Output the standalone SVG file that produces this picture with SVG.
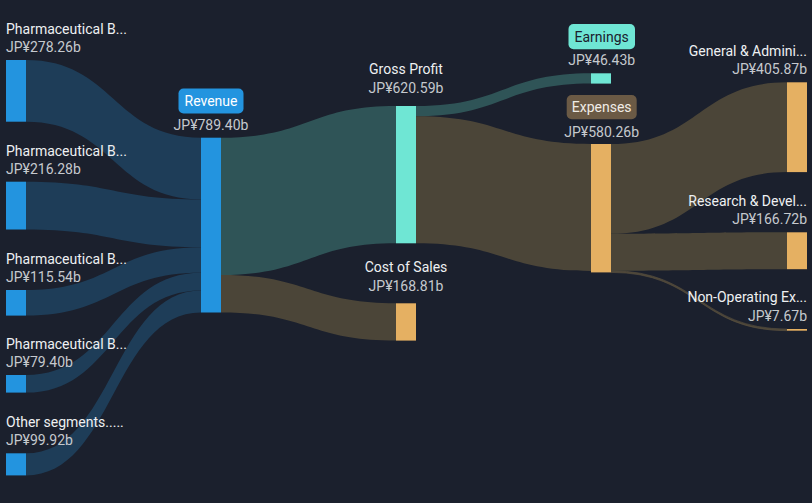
<svg xmlns="http://www.w3.org/2000/svg" width="812" height="503" viewBox="0 0 812 503">
<style>
text{font-family:Roboto,"Liberation Sans",sans-serif;font-size:14px}
.n{fill:#eef0f2}
.v{fill:#c5c9ce}
.m{text-anchor:middle}
.e{text-anchor:end}
.lb{fill:#1e3d58}
.lt{fill:#2f5457}
.lo{fill:#4b4538}
.nb{fill:#2394df}
.nt{fill:#6fe6d4}
.no{fill:#e5b062}
</style>
<rect width="812" height="503" fill="#1b202d"/>
<g id="connectors">
<path class="lb" d="M26 60C113.5 60 113.5 137.7 201 137.7L201 199.4C113.5 199.4 113.5 121.7 26 121.7Z"/>
<path class="lb" d="M26 181.7C113.5 181.7 113.5 199.4 201 199.4L201 247.2C113.5 247.2 113.5 229.5 26 229.5Z"/>
<path class="lb" d="M26 290C113.5 290 113.5 247.2 201 247.2L201 272.8C113.5 272.8 113.5 315.6 26 315.6Z"/>
<path class="lb" d="M26 375C113.5 375 113.5 272.8 201 272.8L201 290.4C113.5 290.4 113.5 392.6 26 392.6Z"/>
<path class="lb" d="M26 453.3C113.5 453.3 113.5 290.4 201 290.4L201 312.5C113.5 312.5 113.5 475.4 26 475.4Z"/>
<path class="lt" d="M221 137.7C308.5 137.7 308.5 106 396 106L396 243.3C308.5 243.3 308.5 275 221 275Z"/>
<path class="lo" d="M221 275C308.5 275 308.5 303.3 396 303.3L396 340.6C308.5 340.6 308.5 312.4 221 312.4Z"/>
<path class="lt" d="M416 106C503.5 106 503.5 73.3 591 73.3L591 83.6C503.5 83.6 503.5 116.3 416 116.3Z"/>
<path class="lo" d="M416 116.3C503.5 116.3 503.5 144 591 144L591 271C503.5 271 503.5 243.3 416 243.3Z"/>
<path class="lo" d="M611 144C699 144 699 82.3 787 82.3L787 172.1C699 172.1 699 233.8 611 233.8Z"/>
<path class="lo" d="M611 233.8C699 233.8 699 232.3 787 232.3L787 269.2C699 269.2 699 270.7 611 270.7Z"/>
<path class="lo" d="M611 270.7C699 270.7 699 329 787 329L787 330.7C699 330.7 699 272.4 611 272.4Z" stroke="#5a5040" stroke-width="0.6"/>
</g>
<g id="seg1"><rect class="nb" x="6" y="60" width="20" height="61.7"/><text class="n" x="6" y="34">Pharmaceutical B...</text><text class="v" x="6" y="52">JP¥278.26b</text></g>
<g id="seg2"><rect class="nb" x="6" y="181.7" width="20" height="47.8"/><text class="n" x="6" y="156">Pharmaceutical B...</text><text class="v" x="6" y="174">JP¥216.28b</text></g>
<g id="seg3"><rect class="nb" x="6" y="290" width="20" height="25.6"/><text class="n" x="6" y="264">Pharmaceutical B...</text><text class="v" x="6" y="282">JP¥115.54b</text></g>
<g id="seg4"><rect class="nb" x="6" y="375" width="20" height="17.6"/><text class="n" x="6" y="349">Pharmaceutical B...</text><text class="v" x="6" y="367">JP¥79.40b</text></g>
<g id="seg5"><rect class="nb" x="6" y="453.3" width="20" height="22.1"/><text class="n" x="6" y="427">Other segments.....</text><text class="v" x="6" y="445">JP¥99.92b</text></g>
<g id="revenue"><rect class="nb" x="201" y="137.7" width="20" height="174.8"/><rect class="nb" x="178.5" y="88.5" width="65" height="25" rx="5"/><text class="m" x="211" y="106" fill="#ffffff">Revenue</text><text class="v m" x="211" y="130">JP¥789.40b</text></g>
<g id="grossprofit"><rect class="nt" x="396" y="106" width="20" height="137.3"/><text class="n m" x="406" y="74">Gross Profit</text><text class="v m" x="406" y="92.7">JP¥620.59b</text></g>
<g id="costofsales"><rect class="no" x="396" y="303.3" width="20" height="37.3"/><text class="n m" x="406" y="272">Cost of Sales</text><text class="v m" x="406" y="290.5">JP¥168.81b</text></g>
<g id="earnings"><rect class="nt" x="591" y="73.3" width="20" height="10.3"/><rect class="nt" x="568.5" y="24" width="66.5" height="25.3" rx="5"/><text class="m" x="601.7" y="41.7" fill="#1b202d">Earnings</text><text class="v m" x="601.7" y="65">JP¥46.43b</text></g>
<g id="expenses"><rect class="no" x="591" y="144" width="20" height="128.4"/><rect x="566.7" y="95" width="70" height="24.3" rx="5" fill="#6b5a45"/><text class="m" x="601.7" y="112.2" fill="#f0ece6">Expenses</text><text class="v m" x="601.7" y="136.7">JP¥580.26b</text></g>
<g id="ga"><rect class="no" x="787" y="82.3" width="20" height="89.8"/><text class="n e" x="807" y="56">General &amp; Admini...</text><text class="v e" x="807" y="74.3">JP¥405.87b</text></g>
<g id="rd"><rect class="no" x="787" y="232.3" width="20" height="36.9"/><text class="n e" x="807" y="205.7">Research &amp; Devel...</text><text class="v e" x="807" y="224.3">JP¥166.72b</text></g>
<g id="nonop"><rect class="no" x="787" y="329" width="20" height="1.7"/><text class="n e" x="807" y="302.3">Non-Operating Ex...</text><text class="v e" x="807" y="321">JP¥7.67b</text></g>
</svg>
